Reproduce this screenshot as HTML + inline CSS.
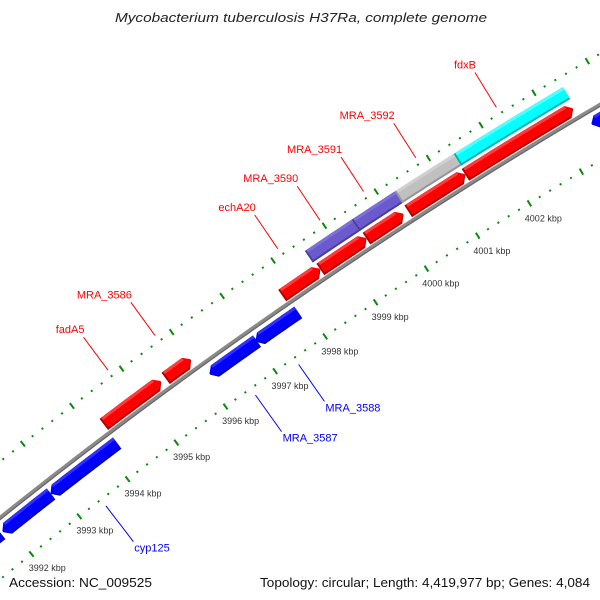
<!DOCTYPE html>
<html><head><meta charset="utf-8"><style>
html,body{margin:0;padding:0;background:#fff;width:600px;height:600px;overflow:hidden;}
svg{display:block;overflow:hidden;}
text{font-family:"Liberation Sans","DejaVu Sans",sans-serif;}
</style></head><body>
<svg id="map" width="600" height="600" viewBox="0 0 600 600" xmlns="http://www.w3.org/2000/svg">
<defs><clipPath id="clip"><rect x="0" y="0" width="600" height="600"/></clipPath></defs>
<rect x="0" y="0" width="600" height="600" fill="#fff"/>
<g clip-path="url(#clip)">
<g id="ticks"></g>
<g id="backbone"></g>
<g id="features"></g>
<g id="labels"></g>
</g>
<text x="301" y="22" text-anchor="middle" font-size="13" font-style="italic" fill="#222" textLength="372" lengthAdjust="spacingAndGlyphs">Mycobacterium tuberculosis H37Ra, complete genome</text>
<text x="9" y="587" font-size="13" fill="#111" textLength="143" lengthAdjust="spacingAndGlyphs">Accession: NC_009525</text>
<text x="590" y="587" text-anchor="end" font-size="13" fill="#111" textLength="330" lengthAdjust="spacingAndGlyphs">Topology: circular; Length: 4,419,977 bp; Genes: 4,084</text>
</svg>
<script>
// ---- data (kbp positions) ----
const featStart  = [3994.23, 3995.48, 3997.80, 3998.55, 3999.45, 4000.26, 4001.36, 3998.51, 3999.42, 4000.25, 4001.38, 3990.60, 3991.86, 3992.86, 3996.10, 3997.02, 4003.54];
const featEnd    = [3995.39, 3995.99, 3998.55, 3999.45, 4000.17, 4001.36, 4003.41, 3999.42, 4000.25, 4001.38, 4003.45, 3991.82, 3992.86, 3994.22, 3997.04, 3997.86, 4005.50];
const featStrand = [1, 1, 1, 1, 1, 1, 1, 0, 0, 0, 0, -1, -1, -1, -1, -1, -1];
const featKind   = ["cds","cds","cds","cds","cds","cds","cds","purple","purple","gray","cyan","rcds","rcds","rcds","rcds","rcds","rcds"];
const labelText  = ["fdxB","MRA_3592","MRA_3591","MRA_3590","echA20","MRA_3586","fadA5","cyp125","MRA_3587","MRA_3588"];
const labelPos   = [4002.36, 4000.83, 3999.83, 3998.99, 3998.17, 3995.75, 3994.81, 3993.45, 3996.51, 3997.38];
const labelSide  = [1, 1, 1, 1, 1, 1, 1, -1, -1, -1];
const tickStartKbp = 3990, tickEndKbp = 4006, tickStepKbp = 0.2;

// ---- geometry ----
const CX = 3189, CY = 4508, T0 = 236.91, DPK = 0.69;
const R_BB = 5108, R_IN_TICK = 5060, R_OUT_TICK = 5152;
const TRACK = {cds:[5111,5125], purple:[5128,5142], gray:[5128,5142], cyan:[5128,5142], rcds:[5088,5102]};
const COLORS = {
  cds:["#ff0000","#b00000","#ff3a3a"], rcds:["#0000ff","#0000a8","#3030ff"],
  purple:["#6a5acd","#4a3e9a","#7d6fd8"], gray:["#c0c0c0","#959595","#d0d0d0"], cyan:["#00ffff","#00b0b0","#50ffff"]
};
const NS = "http://www.w3.org/2000/svg";
function P(k, r){ const t=(T0+(k-4000)*DPK)*Math.PI/180; return [CX+r*Math.cos(t), CY+r*Math.sin(t)]; }
function arc(a,b,r){ const n=Math.max(2,Math.ceil(Math.abs(b-a)*8)); const o=[]; for(let i=0;i<=n;i++){o.push(P(a+(b-a)*i/n,r));} return o; }
function ptsStr(p){ return p.map(q=>q[0].toFixed(2)+","+q[1].toFixed(2)).join(" "); }
function shape(a,b,r0,r1,strand){
  const tip=0.1, m=(r0+r1)/2;
  if(strand===1) return arc(a,b-tip,r0).concat([P(b,m)], arc(b-tip,a,r1));
  if(strand===-1) return [P(a,m)].concat(arc(a+tip,b,r0), arc(b,a+tip,r1));
  return arc(a,b,r0).concat(arc(b,a,r1));
}
function mk(tag, parent){ const e=document.createElementNS(NS,tag); parent.appendChild(e); return e; }

// ticks
const tg=document.getElementById('ticks');
const nT=Math.round((tickEndKbp-tickStartKbp)/tickStepKbp);
for(let i=0;i<=nT;i++){
  const k=tickStartKbp+i*tickStepKbp; const major=Math.abs(k-Math.round(k))<1e-6;
  [R_IN_TICK,R_OUT_TICK].forEach(function(R){
    const h=major?3.5:1; const p0=P(k,R-h), p1=P(k,R+h);
    if(p0[1]>598 || p1[1]<-2 || p0[0]>602 || p1[0]<-2) return;
    const l=mk('line',tg);
    
    
    l.setAttribute('x1',p0[0]); l.setAttribute('y1',p0[1]); l.setAttribute('x2',p1[0]); l.setAttribute('y2',p1[1]);
    l.setAttribute('stroke','#0a8a0a'); l.setAttribute('stroke-width','2');
  });
  if(major){
    const p=P(Math.round(k),5042);
    const x=p[0]-14, y=p[1]+3;
    if(x>0 && x+40<600 && y<590 && y>0){
      const t=mk('text',tg);
      
      
      t.setAttribute('x',x.toFixed(1)); t.setAttribute('y',y.toFixed(1));
      t.setAttribute('font-size','9'); t.setAttribute('fill','#333');
      t.textContent=Math.round(k)+" kbp";
    }
  }
}

// backbone
const bg=document.getElementById('backbone');
const bb=mk('polyline',bg);


bb.setAttribute('points',ptsStr(arc(3990.5,4005,R_BB)));
bb.setAttribute('fill','none'); bb.setAttribute('stroke','#8a8a8a'); bb.setAttribute('stroke-width','4');
const bb2=mk('polyline',bg);


bb2.setAttribute('points',ptsStr(arc(3990.5,4005,R_BB-1.5)));
bb2.setAttribute('fill','none'); bb2.setAttribute('stroke','#666'); bb2.setAttribute('stroke-width','1.2');

// features
const fg=document.getElementById('features');
for(let i=0;i<featStart.length;i++){
  const kind=featKind[i], tr=TRACK[kind], c=COLORS[kind], a=featStart[i], b=featEnd[i], s=featStrand[i];
  const g=mk('g',fg);
  
  
  const d=mk('polygon',g);
  
  
  d.setAttribute('points',ptsStr(shape(a,b,tr[0],tr[1],s))); d.setAttribute('fill',c[1]);
  const m=mk('polygon',g);
  
  
  const a2 = s===-1? a : a+0.03;
  m.setAttribute('points',ptsStr(shape(a2,b,tr[0]+2,tr[1],s))); m.setAttribute('fill',c[0]);
  const h=mk('polygon',g);
  
  
  const ha = s===-1? a+0.1 : a2, hb = s===1? b-0.1 : b;
  h.setAttribute('points',ptsStr(arc(ha,hb,tr[1]-3).concat(arc(hb,ha,tr[1])))); h.setAttribute('fill',c[2]);
}

// labels
const lg=document.getElementById('labels');
for(let i=0;i<labelText.length;i++){
  const up=labelSide[i]===1, col=up?'#ff0000':'#0000ff';
  const p0=up?P(labelPos[i],5159):P(labelPos[i],5052), p1=up?P(labelPos[i],5200):P(labelPos[i],5007);
  const l=mk('line',lg);
  
  
  l.setAttribute('x1',p0[0]); l.setAttribute('y1',p0[1]); l.setAttribute('x2',p1[0]); l.setAttribute('y2',p1[1]);
  l.setAttribute('stroke',col); l.setAttribute('stroke-width','1');
  const t=mk('text',lg);
  
  
  t.setAttribute('font-size','11'); t.setAttribute('fill',col);
  if(up){ t.setAttribute('text-anchor','end'); t.setAttribute('x',(p1[0]+1).toFixed(1)); t.setAttribute('y',(p1[1]-4).toFixed(1)); }
  else { t.setAttribute('x',(p1[0]+1).toFixed(1)); t.setAttribute('y',(p1[1]+10).toFixed(1)); }
  t.textContent=labelText[i];
}
</script>
</body></html>
